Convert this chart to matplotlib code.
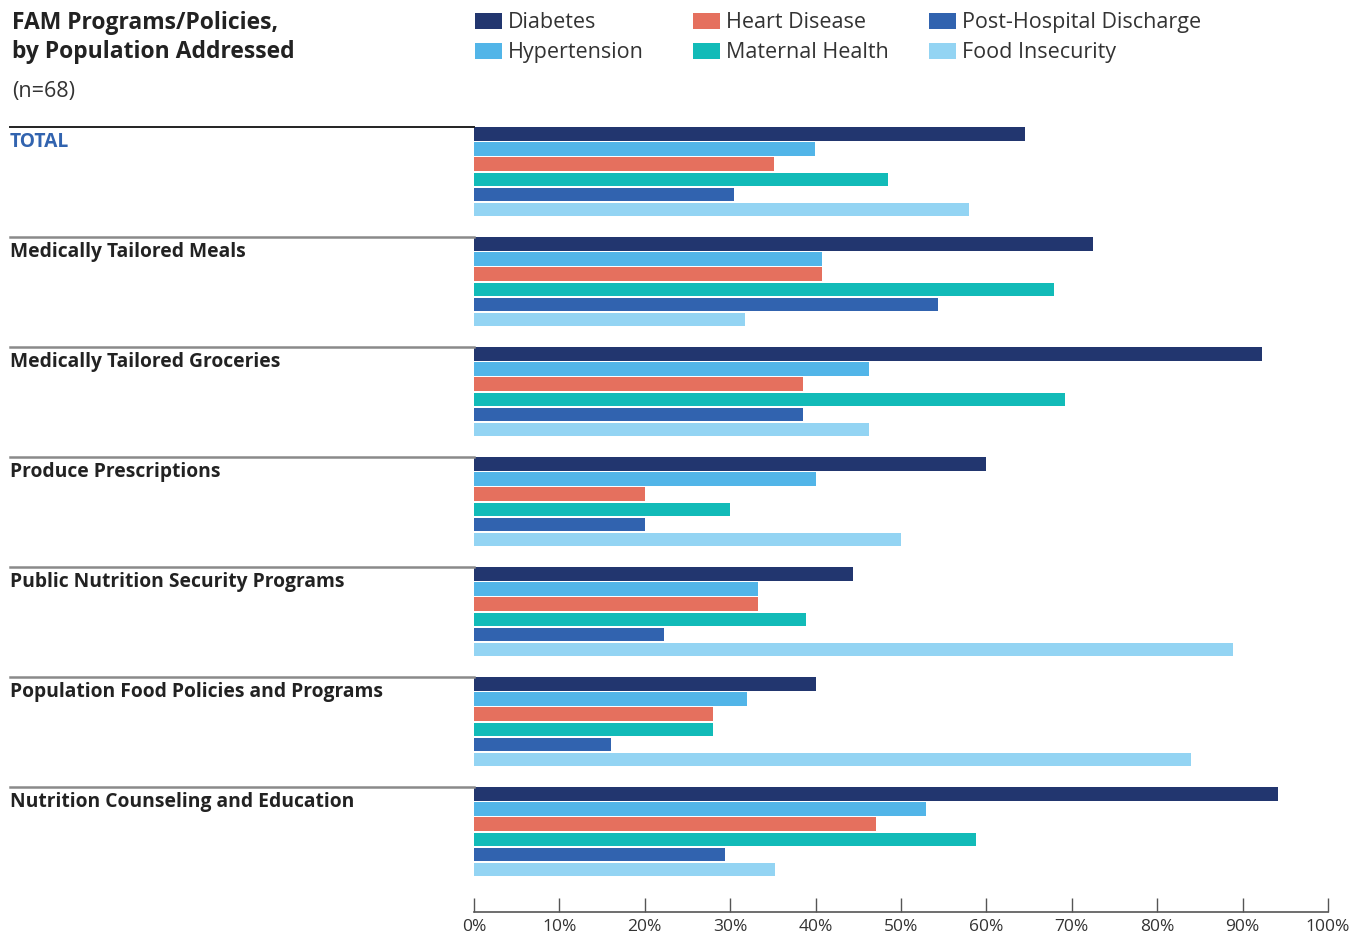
import matplotlib
matplotlib.use("Agg")
import matplotlib.pyplot as plt
from matplotlib.transforms import blended_transform_factory
from matplotlib.patches import Rectangle

plt.rcParams['font.family'] = ['Open Sans', 'DejaVu Sans']

# --- data: share of programs addressing each population (%) ---
groups = [
    "TOTAL",
    "Medically Tailored Meals",
    "Medically Tailored Groceries",
    "Produce Prescriptions",
    "Public Nutrition Security Programs",
    "Population Food Policies and Programs",
    "Nutrition Counseling and Education",
]
series = ["Diabetes", "Hypertension", "Heart Disease",
          "Maternal Health", "Post-Hospital Discharge", "Food Insecurity"]

diabetes = [64.5, 72.5, 92.3, 60.0, 44.4, 40.0, 94.1]
hypertension = [39.9, 40.7, 46.2, 40.0, 33.3, 32.0, 52.9]
heart_disease = [35.1, 40.7, 38.5, 20.0, 33.3, 28.0, 47.1]
maternal_health = [48.5, 67.9, 69.2, 30.0, 38.9, 28.0, 58.8]
post_hospital = [30.4, 54.3, 38.5, 20.0, 22.2, 16.0, 29.4]
food_insecurity = [58.0, 31.7, 46.2, 50.0, 88.9, 84.0, 35.3]

values = [diabetes, hypertension, heart_disease,
          maternal_health, post_hospital, food_insecurity]
colors = ["#22366F", "#52B5E8", "#E5705E", "#12BBB8", "#3163AF", "#93D4F3"]
ticks = list(range(0, 101, 10))

# --- layout ---
W, H = 1360, 938
fig = plt.figure(figsize=(W / 100, H / 100), dpi=100)
left, right, top, bottom = 474, 1328, 127, 912
ax = fig.add_axes([left / W, 1 - bottom / H, (right - left) / W, (bottom - top) / H])

pitch = 0.138    # spacing between bars inside one group
bar_h = 0.123
offset = 0.062

for j, (vals, c) in enumerate(zip(values, colors)):
    ys = [i + offset + pitch * j for i in range(len(groups))]
    ax.barh(ys, vals, height=bar_h, color=c, label=series[j])

ax.set_xlim(0, 100)
ax.set_ylim((bottom - top) / 110, 0)
ax.set_yticks([])
ax.set_xticks(ticks)
ax.set_xticklabels([f"{t}%" for t in ticks], fontsize=12.5, color="#333333")
ax.tick_params(axis="x", direction="in", length=10, width=1, color="#555555", pad=5)
for s in ["top", "right", "left"]:
    ax.spines[s].set_visible(False)
ax.spines["bottom"].set_color("#555555")
ax.spines["bottom"].set_linewidth(1.2)

# group separators and row labels on the left
trans = blended_transform_factory(ax.transAxes, ax.transData)
x0 = (10 - left) / (right - left)
for i, g in enumerate(groups):
    ax.plot([x0, 0], [i, i], transform=trans, clip_on=False,
            color="#222222" if i == 0 else "#8a8a8a", lw=1.4 if i == 0 else 1.8)
    ax.text(x0, i + 0.045, g, transform=trans, va="top", ha="left",
            fontsize=13.9, fontweight="bold",
            color="#3163AF" if i == 0 else "#222222")

# title block
fig.text(12 / W, 1 - 29 / H, "FAM Programs/Policies,", fontsize=16.5, fontweight="bold",
         color="#222222", va="baseline", ha="left")
fig.text(12 / W, 1 - 58 / H, "by Population Addressed", fontsize=16.5, fontweight="bold",
         color="#222222", va="baseline", ha="left")
fig.text(12 / W, 1 - 97 / H, "(n=68)", fontsize=15.5, color="#333333",
         va="baseline", ha="left")

# legend: three columns of two entries, laid out by hand
col_x = [475, 693, 929]
row_y = [21, 51]
for k, (name, c) in enumerate(zip(series, colors)):
    x, y = col_x[k // 2], row_y[k % 2]
    fig.add_artist(Rectangle((x / W, 1 - (y + 8) / H), 27 / W, 16 / H,
                             transform=fig.transFigure, facecolor=c, edgecolor="none"))
    fig.text((x + 33) / W, 1 - (y + 7) / H, name, fontsize=15.5, color="#333333",
             va="baseline", ha="left")

fig.savefig("out.png", dpi=100)
